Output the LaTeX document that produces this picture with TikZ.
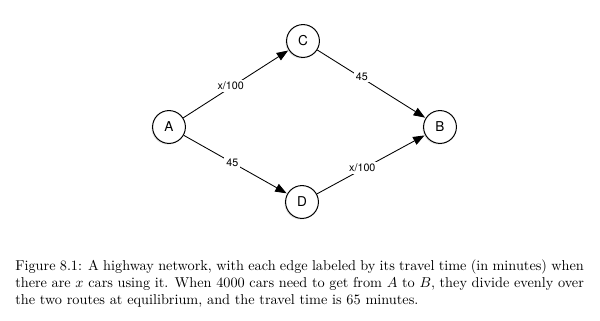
\documentclass[tikz,border=0pt]{standalone}
\usepackage{fontspec}
\newfontfamily\helv{TeX Gyre Heros}
\usetikzlibrary{arrows.meta,shadows}
\tikzset{
  city/.style={draw, circle, minimum size=23pt, inner sep=0pt, line width=0.7pt, fill=white,
    drop shadow={shadow xshift=-0.8pt, shadow yshift=-0.8pt, opacity=0.2},
    font=\helv\fontsize{9.5}{11}\selectfont},
  road/.style={line width=0.6pt, -{Triangle[length=8pt,width=6pt]}, shorten >=0.5pt},
  cost/.style={fill=white, inner sep=1.5pt, font=\helv\fontsize{7.5}{9}\selectfont}
}
\begin{document}
\begin{tikzpicture}[x=0.7pt,y=-0.7pt]
\useasboundingbox (0,0) rectangle (600,321);
% cities
\node[city] (A) at (169,127) {A};
\node[city] (C) at (303,41) {C};
\node[city] (B) at (440,127) {B};
\node[city] (D) at (302,202) {D};
% roads with travel times
\draw[road] (A) -- node[cost, pos=0.45, yshift=1pt] {x/100} (C);
\draw[road] (C) -- node[cost, pos=0.41, yshift=1pt] {45} (B);
\draw[road] (A) -- node[cost, pos=0.47] {45} (D);
\draw[road] (D) -- node[cost, pos=0.42, yshift=1pt] {x/100} (B);
% caption
\node[
  anchor=north west,
  inner sep=0pt,
  text width=398pt,
  align=justify,
  font=\fontsize{10}{12}\selectfont
] (caption) at (15,259) {Figure 8.1: A highway network, with each edge labeled by its travel time (in minutes) when there are $x$ cars using it. When 4000 cars need to get from $A$ to $B$, they divide evenly over the two routes at equilibrium, and the travel time is 65 minutes.};
\end{tikzpicture}
\end{document}
